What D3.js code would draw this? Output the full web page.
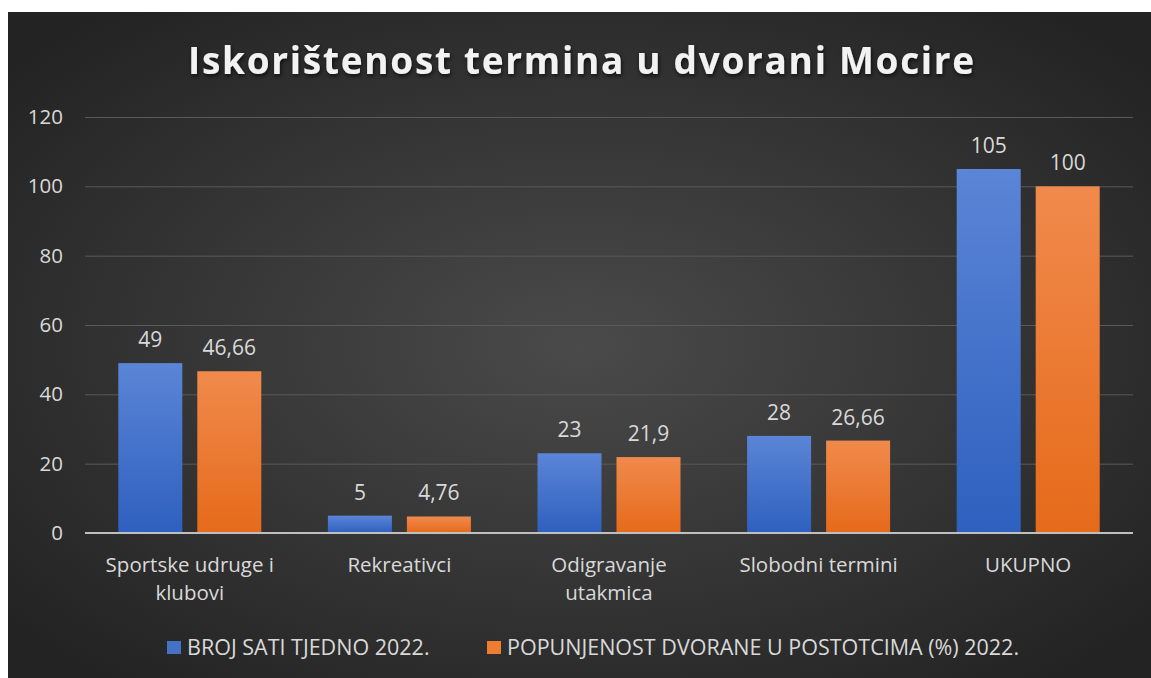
<!DOCTYPE html>
<html>
<head>
<meta charset="utf-8">
<script src="https://cdn.jsdelivr.net/npm/d3@7"></script>
<style>
	html, body { margin: 0; padding: 0; background: #ffffff; }
	svg { display: block; }
	text { font-family: "Open Sans", Lato, sans-serif; }
</style>
</head>
<body>
<div id="graphic"></div>
<script>
// data
const categories = ['Sportske udruge i|klubovi', 'Rekreativci', 'Odigravanje|utakmica', 'Slobodni termini', 'UKUPNO'];
const seriesNames = ['BROJ SATI TJEDNO 2022.', 'POPUNJENOST DVORANE U POSTOTCIMA (%) 2022.'];
const hoursPerWeek = [49, 5, 23, 28, 105];
const occupancyPct = [46.66, 4.76, 21.9, 26.66, 100];
const yTicks = [0, 20, 40, 60, 80, 100, 120];

const width = 1151, height = 678;
const panel = { x: 8, y: 12, w: 1143, h: 666 };
const margin = { top: 117, right: 18, bottom: 145, left: 85 };
const chart_width = width - margin.left - margin.right;
const chart_height = height - margin.top - margin.bottom;

const svg = d3.select('#graphic').append('svg')
	.attr('width', width)
	.attr('height', height);

const defs = svg.append('defs');

// background radial gradient
const bg = defs.append('radialGradient').attr('id', 'bg')
	.attr('cx', '50%').attr('cy', '50%').attr('r', '65%');
bg.append('stop').attr('offset', '0%').attr('stop-color', '#4a4a4a');
bg.append('stop').attr('offset', '100%').attr('stop-color', '#232323');

const blueGrad = defs.append('linearGradient').attr('id', 'blueGrad')
	.attr('x1', 0).attr('y1', 0).attr('x2', 0).attr('y2', 1);
blueGrad.append('stop').attr('offset', '0%').attr('stop-color', '#5b85d6');
blueGrad.append('stop').attr('offset', '100%').attr('stop-color', '#2e60bf');

const orangeGrad = defs.append('linearGradient').attr('id', 'orangeGrad')
	.attr('x1', 0).attr('y1', 0).attr('x2', 0).attr('y2', 1);
orangeGrad.append('stop').attr('offset', '0%').attr('stop-color', '#f08a4c');
orangeGrad.append('stop').attr('offset', '100%').attr('stop-color', '#e66a1a');

const shadow = defs.append('filter').attr('id', 'shadow')
	.attr('x', '-10%').attr('y', '-30%').attr('width', '120%').attr('height', '160%');
shadow.append('feDropShadow').attr('dx', 1).attr('dy', 2).attr('stdDeviation', 2)
	.attr('flood-color', '#000').attr('flood-opacity', 0.7);

svg.append('rect')
	.attr('x', panel.x).attr('y', panel.y)
	.attr('width', panel.w).attr('height', panel.h)
	.attr('fill', 'url(#bg)');

// title
svg.append('text')
	.attr('x', 582).attr('y', 74)
	.attr('text-anchor', 'middle')
	.attr('fill', '#f2f2f2')
	.attr('font-size', 37)
	.attr('font-weight', 'bold')
	.attr('letter-spacing', 1.7)
	.attr('filter', 'url(#shadow)')
	.text('Iskorištenost termina u dvorani Mocire');

const g = svg.append('g').attr('transform', `translate(${margin.left},${margin.top})`);

const x0 = d3.scaleBand().domain(categories).range([0, chart_width]).paddingInner(0).paddingOuter(0);
const y = d3.scaleLinear().domain([0, 120]).range([chart_height, 0]);

// grid
g.append('g')
	.attr('class', 'grid')
	.call(d3.axisLeft(y).tickValues(yTicks.slice(1)).tickSize(-chart_width).tickFormat(''))
	.call(s => s.select('.domain').remove())
	.call(s => s.selectAll('line').attr('stroke', '#5a5a5a').attr('stroke-width', 1));

// y axis labels
g.append('g')
	.call(d3.axisLeft(y).tickValues(yTicks).tickSize(0).tickPadding(22))
	.call(s => s.select('.domain').remove())
	.call(s => s.selectAll('text').attr('fill', '#d9d9d9').attr('font-size', 20.5).attr('text-anchor', 'end')
		.style('font-family', '"Open Sans", Lato, sans-serif'));

const barW = 64, gap = 15;
const series = [
	{ name: seriesNames[0], values: hoursPerWeek, fill: 'url(#blueGrad)', key: '#4472c4', fmt: d => String(d) },
	{ name: seriesNames[1], values: occupancyPct, fill: 'url(#orangeGrad)', key: '#ed7d31', fmt: d => String(d).replace('.', ',') }
];

series.forEach((s, si) => {
	const offset = si === 0 ? -(gap / 2 + barW) : gap / 2;
	g.selectAll(null).data(categories).enter().append('rect')
		.attr('x', c => x0(c) + x0.bandwidth() / 2 + offset)
		.attr('y', (c, i) => y(s.values[i]))
		.attr('width', barW)
		.attr('height', (c, i) => chart_height - y(s.values[i]))
		.attr('fill', s.fill);
	g.selectAll(null).data(categories).enter().append('text')
		.attr('x', c => x0(c) + x0.bandwidth() / 2 + offset + barW / 2)
		.attr('y', (c, i) => y(s.values[i]) - 16)
		.attr('text-anchor', 'middle')
		.attr('fill', '#d9d9d9')
		.attr('font-size', 21)
		.text((c, i) => s.fmt(s.values[i]));
});

// baseline
g.append('line')
	.attr('x1', 0).attr('x2', chart_width)
	.attr('y1', y(0)).attr('y2', y(0))
	.attr('stroke', '#bfbfbf').attr('stroke-width', 2);

// category labels
categories.forEach(c => {
	const t = g.append('text')
		.attr('x', x0(c) + x0.bandwidth() / 2)
		.attr('y', chart_height + 39)
		.attr('text-anchor', 'middle')
		.attr('fill', '#d9d9d9')
		.attr('font-size', 20.5);
	c.split('|').forEach((line, i) => {
		t.append('tspan').attr('x', x0(c) + x0.bandwidth() / 2).attr('dy', i === 0 ? 0 : 28).text(line);
	});
});

// legend
const legendY = 655;
const legendX = [167, 487];
series.forEach((s, i) => {
	svg.append('rect')
		.attr('x', legendX[i]).attr('y', legendY - 14)
		.attr('width', 14).attr('height', 13)
		.attr('fill', s.key);
	svg.append('text')
		.attr('x', legendX[i] + 20).attr('y', legendY)
		.attr('fill', '#d9d9d9')
		.attr('font-size', 21.5)
		.text(s.name);
});
</script>
</body>
</html>
